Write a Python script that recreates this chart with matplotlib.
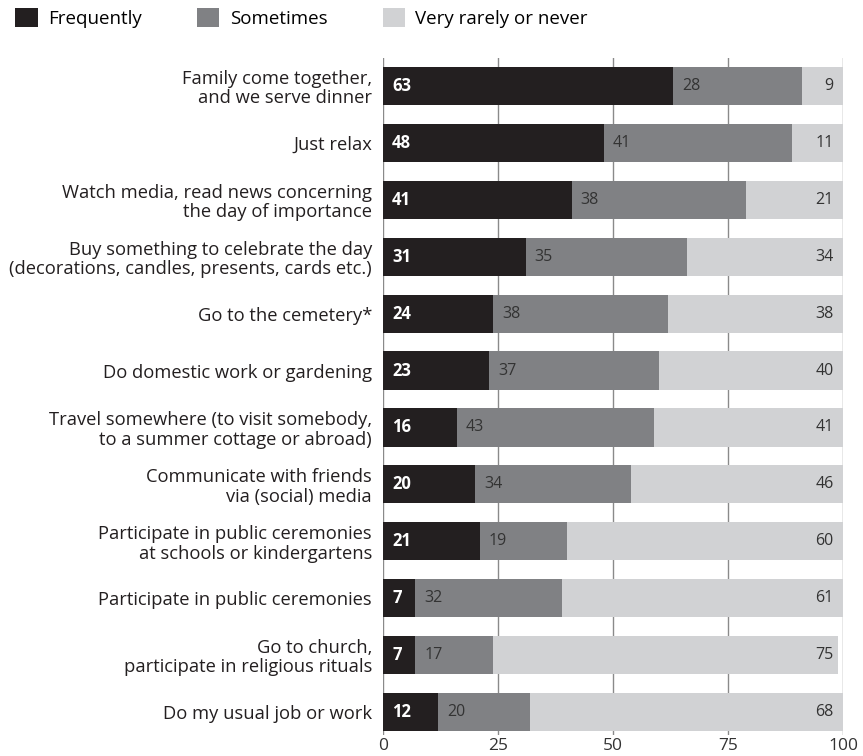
import matplotlib
matplotlib.use('Agg')
import matplotlib.pyplot as plt
from matplotlib.patches import Patch

plt.rcParams['font.family'] = ['Open Sans', 'DejaVu Sans']

categories = ['Family come together,\nand we serve dinner',
              'Just relax',
              'Watch media, read news concerning\nthe day of importance',
              'Buy something to celebrate the day\n(decorations, candles, presents, cards etc.)',
              'Go to the cemetery*',
              'Do domestic work or gardening',
              'Travel somewhere (to visit somebody,\nto a summer cottage or abroad)',
              'Communicate with friends\nvia (social) media',
              'Participate in public ceremonies\nat schools or kindergartens',
              'Participate in public ceremonies',
              'Go to church,\nparticipate in religious rituals',
              'Do my usual job or work']
frequently = [63, 48, 41, 31, 24, 23, 16, 20, 21, 7, 7, 12]
sometimes = [28, 41, 38, 35, 38, 37, 43, 34, 19, 32, 17, 20]
rarely = [9, 11, 21, 34, 38, 40, 41, 46, 60, 61, 75, 68]
series_names = ['Frequently', 'Sometimes', 'Very rarely or never']
colors = ['#231f20', '#808184', '#d1d2d4']
xticks = [0, 25, 50, 75, 100]

fig = plt.figure(figsize=(8.63, 7.56), dpi=100)
ax = fig.add_axes([383/863, 1-735/756, 460/863, 677/756])

y = list(range(len(categories)))
h = 0.67
ax.barh(y, frequently, height=h, color=colors[0], zorder=2)
ax.barh(y, sometimes, left=frequently, height=h, color=colors[1], zorder=2)
left2 = [a + b for a, b in zip(frequently, sometimes)]
ax.barh(y, rarely, left=left2, height=h, color=colors[2], zorder=2)

for i in y:
    ax.text(2.0, i, str(frequently[i]), color='white', fontweight='bold',
            fontsize=12, va='center', ha='left', zorder=3)
    ax.text(frequently[i] + 2.0, i, str(sometimes[i]), color='#333333',
            fontsize=11.5, va='center', ha='left', zorder=3)
    ax.text(98, i, str(rarely[i]), color='#333333',
            fontsize=11.5, va='center', ha='right', zorder=3)

for xv in xticks:
    ax.axvline(xv, color='#8a8a8a', linewidth=1, zorder=1)

ax.set_xlim(0, 100)
ax.set_ylim(11.404, -0.492)
ax.set_xticks(xticks)
ax.set_xticklabels([str(v) for v in xticks], fontsize=12.5, color='#333333')
ax.set_yticks(y)
ax.set_yticklabels(categories, fontsize=13.2, color='#231f20', linespacing=1.1)
ax.tick_params(axis='both', length=0)
ax.tick_params(axis='y', pad=8)
ax.tick_params(axis='x', pad=2)
for s in ax.spines.values():
    s.set_visible(False)

handles = [Patch(facecolor=c, edgecolor='none') for c in colors]
fig.legend(handles, series_names, ncol=3, loc='upper left',
           bbox_to_anchor=(15/863, 1-8/756), frameon=False, fontsize=13.5,
           borderpad=0, borderaxespad=0,
           handlelength=1.2, handleheight=1.2, handletextpad=0.55,
           columnspacing=2.95)

fig.savefig('out.png', dpi=100)
